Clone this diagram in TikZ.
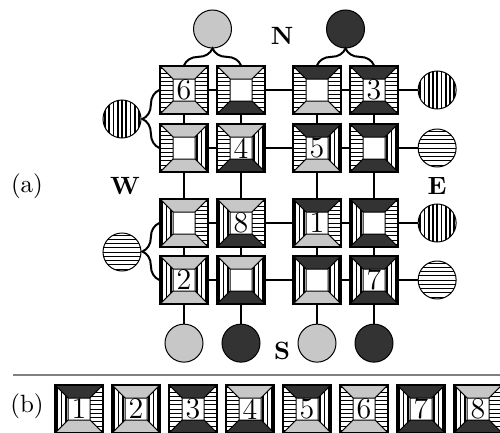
\documentclass[tikz,border=0pt]{standalone}
\usepackage{tikz}
\usetikzlibrary{positioning,decorations.pathreplacing}

\definecolor{lightface}{gray}{0.78}
\definecolor{darkface}{gray}{0.2}

% tile: position, name, label, top, right, bottom, left
\newcommand{\tile}[7]{%
  \begin{scope}[shift={(#1)}]
    \path[facet,e#4] (-24,-24) -- (24,-24) -- (11,-11) -- (-11,-11) -- cycle;
    \path[facet,e#5] (24,-24) -- (24,24) -- (11,11) -- (11,-11) -- cycle;
    \path[facet,e#6] (-24,24) -- (24,24) -- (11,11) -- (-11,11) -- cycle;
    \path[facet,e#7] (-24,-24) -- (-24,24) -- (-11,11) -- (-11,-11) -- cycle;
  \end{scope}
  \node[tilebox] (#2) at (#1) {#3};
}

\begin{document}
\begin{tikzpicture}[x=0.4pt, y=-0.4pt,
  facet/.style={draw, line width=0.4pt},
  eL/.style={fill=lightface},
  eD/.style={fill=darkface},
  eH/.style={fill=white, path picture={\foreach \k in {-7,...,7} \draw[line width=0.35pt] ([yshift=\k*1.7pt]path picture bounding box.west) -- ([yshift=\k*1.7pt]path picture bounding box.east);}},
  eV/.style={fill=white, path picture={\foreach \k in {-7,...,7} \draw[line width=0.7pt] ([xshift=\k*1.7pt]path picture bounding box.south) -- ([xshift=\k*1.7pt]path picture bounding box.north);}},
  tilebox/.style={draw, line width=0.5pt, minimum size=19.2pt, inner sep=0pt, font=\fontsize{12}{14}\selectfont},
  disc/.style={draw, circle, line width=0.4pt, minimum size=15.2pt, inner sep=0pt},
  link/.style={line width=0.8pt},
  fork/.style={link, decorate, decoration={brace, amplitude=6.8pt}},
  side/.style={font=\bfseries}
]
\useasboundingbox (0,0) rectangle (500,433);
\clip (0,0) rectangle (500,433);

% (a) grid
\tile{184,90}{t11}{6}{L}{H}{L}{H}
\tile{241,90}{t12}{}{L}{H}{D}{H}
\tile{317,90}{t13}{}{D}{H}{L}{H}
\tile{374,90}{t14}{3}{D}{H}{D}{H}
\tile{184,148}{t21}{}{L}{V}{L}{H}
\tile{241,148}{t22}{4}{L}{V}{D}{H}
\tile{317,148}{t23}{5}{D}{V}{L}{H}
\tile{374,148}{t24}{}{D}{V}{D}{H}
\tile{184,223}{t31}{}{L}{H}{L}{V}
\tile{241,223}{t32}{8}{L}{H}{D}{V}
\tile{317,223}{t33}{1}{D}{H}{L}{V}
\tile{374,223}{t34}{}{D}{H}{D}{V}
\tile{184,280}{t41}{2}{L}{V}{L}{V}
\tile{241,280}{t42}{}{L}{V}{D}{V}
\tile{317,280}{t43}{}{D}{V}{L}{V}
\tile{374,280}{t44}{7}{D}{V}{D}{V}

% border discs
\node[disc, fill=lightface] (n1) at (212.5,29) {};
\node[disc, fill=darkface] (n2) at (345.5,29) {};
\node[disc, eV] (w1) at (122,119) {};
\node[disc, eH] (w2) at (122,252) {};
\node[disc, eV, right=7.6pt of t14] (e1) {};
\node[disc, eH, right=7.6pt of t24] (e2) {};
\node[disc, eV, right=7.6pt of t34] (e3) {};
\node[disc, eH, right=7.6pt of t44] (e4) {};
\node[disc, fill=lightface, below=7.6pt of t41] (s1) {};
\node[disc, fill=darkface, below=7.6pt of t42] (s2) {};
\node[disc, fill=lightface, below=7.6pt of t43] (s3) {};
\node[disc, fill=darkface, below=7.6pt of t44] (s4) {};

\node[side] (lblN) at (282,36) {N};
\node[side] (lblW) at (125,186) {W};
\node[side] (lblE) at (437,186) {E};
\node[side] (lblS) at (282,351) {S};
\node (lbla) at (27,186) {(a)};

% links
\draw[link] (t11) -- (t12); \draw[link] (t12) -- (t13); \draw[link] (t13) -- (t14); \draw[link] (t14) -- (e1);
\draw[link] (t21) -- (t22); \draw[link] (t22) -- (t23); \draw[link] (t23) -- (t24); \draw[link] (t24) -- (e2);
\draw[link] (t31) -- (t32); \draw[link] (t32) -- (t33); \draw[link] (t33) -- (t34); \draw[link] (t34) -- (e3);
\draw[link] (t41) -- (t42); \draw[link] (t42) -- (t43); \draw[link] (t43) -- (t44); \draw[link] (t44) -- (e4);
\draw[link] (t11) -- (t21); \draw[link] (t21) -- (t31); \draw[link] (t31) -- (t41); \draw[link] (t41) -- (s1);
\draw[link] (t12) -- (t22); \draw[link] (t22) -- (t32); \draw[link] (t32) -- (t42); \draw[link] (t42) -- (s2);
\draw[link] (t13) -- (t23); \draw[link] (t23) -- (t33); \draw[link] (t33) -- (t43); \draw[link] (t43) -- (s3);
\draw[link] (t14) -- (t24); \draw[link] (t24) -- (t34); \draw[link] (t34) -- (t44); \draw[link] (t44) -- (s4);
\draw[fork] (t11.north) -- (t12.north);
\draw[fork] (t13.north) -- (t14.north);
\draw[fork] (t21.west) -- (t11.west);
\draw[fork] (t41.west) -- (t31.west);

\draw[gray, line width=0.6pt] (13,375) -- (500,375);

% (b) tile set
\node (lblb) at (27,406) {(b)};
\tile{79,409}{p1}{1}{D}{H}{L}{V}
\tile{136,409}{p2}{2}{L}{V}{L}{V}
\tile{193,409}{p3}{3}{D}{H}{D}{H}
\tile{250,409}{p4}{4}{L}{V}{D}{H}
\tile{307,409}{p5}{5}{D}{V}{L}{H}
\tile{364,409}{p6}{6}{L}{H}{L}{H}
\tile{421,409}{p7}{7}{D}{V}{D}{V}
\tile{478,409}{p8}{8}{L}{H}{D}{V}
\end{tikzpicture}
\end{document}
